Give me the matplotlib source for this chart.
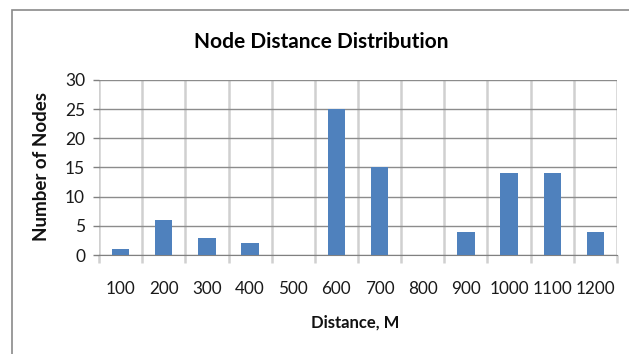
import numpy as np
import matplotlib
matplotlib.use("Agg")
from matplotlib import pyplot as plt
from matplotlib.patches import Rectangle

distances = ["100", "200", "300", "400", "500", "600", "700", "800", "900", "1000", "1100", "1200"]
num_nodes = [1, 6, 3, 2, 0, 25, 15, 0, 4, 14, 14, 4]
y_ticks = [0, 5, 10, 15, 20, 25, 30]

plt.rcParams['font.family'] = ['Lato', 'DejaVu Sans']

fig = plt.figure(figsize=(6.29, 3.54), dpi=100)
ax = fig.add_axes([99/629, 1 - 255/354, 518/629, 175/354])

x = np.arange(len(distances))
ax.bar(x, num_nodes, width=0.4, color='#4F81BD', zorder=3)

ax.set_xlim(-0.5, len(distances) - 0.5)
ax.set_ylim(0, 30)
ax.set_yticks(y_ticks)
ax.set_xticks(x)
ax.set_xticklabels(distances)
ax.set_xticks(np.arange(len(distances) + 1) - 0.5, minor=True)

# vertical lines at category borders, running a bit below the axis
ax.tick_params(axis='x', which='major', length=0, pad=19, labelsize=12.3, colors='#1a1a1a')
ax.tick_params(axis='x', which='minor', length=6, width=1.8, color='#d0d0d0')
ax.tick_params(axis='y', which='major', length=4, width=1, color='#808080', pad=6,
               labelsize=12.5, labelcolor='#1a1a1a')
ax.grid(axis='x', which='minor', color='#d0d0d0', linewidth=1.8, zorder=0)
ax.grid(axis='y', which='major', color='#8c8c8c', linewidth=1, zorder=1)

for side in ['top', 'right', 'left']:
    ax.spines[side].set_visible(False)
ax.spines['bottom'].set_color('#808080')

fig.text(321/629, 1 - 42/354, "Node Distance Distribution", ha='center', va='center',
         fontsize=15, fontweight='bold', color='black')
fig.text(355/629, 1 - 323/354, "Distance, M", ha='center', va='center',
         fontsize=12, fontweight='bold', color='#111111')
fig.text(42/629, 1 - 167/354, "Number of Nodes", ha='center', va='center', rotation=90,
         fontsize=13.5, fontweight='bold', color='#111111')

# frame round the chart (open on right and bottom)
fig.add_artist(Rectangle((12/629, -0.1), 1.2, 1 - 10/354 + 0.1, transform=fig.transFigure,
                         fill=False, edgecolor='#8a8a8a', linewidth=1.2))

fig.savefig("out.png", dpi=100)
